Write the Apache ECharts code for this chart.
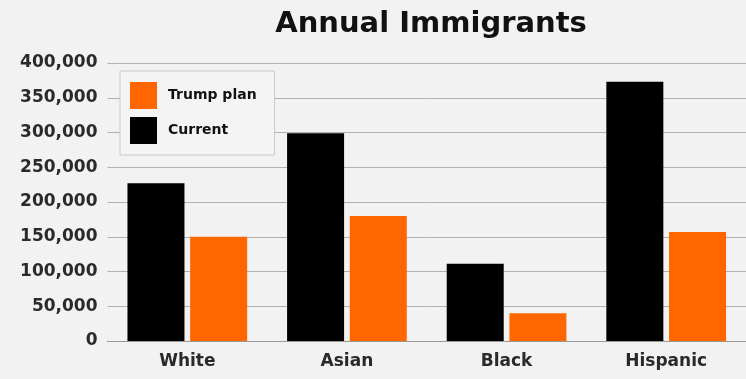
<!DOCTYPE html>
<html>
<head>
<meta charset="utf-8">
<script src="https://cdn.jsdelivr.net/npm/echarts@6/dist/echarts.min.js"></script>
<style>
  html, body { margin: 0; padding: 0; background: #f2f2f2; }
  #chart { width: 746px; height: 379px; }
</style>
</head>
<body>
<div id="chart"></div>
<script>
const categories = ['White', 'Asian', 'Black', 'Hispanic'];
const currentValues = [227000, 299000, 111000, 373000];
const trumpValues = [150000, 180000, 40000, 157000];

const chartDom = document.getElementById('chart');
const myChart = echarts.init(chartDom);

const font = 'DejaVu Sans';

const option = {
    backgroundColor: '#f2f2f2',
    animation: false,
    title: {
        text: 'Annual Immigrants',
        left: 426,
        textAlign: 'center',
        top: 5,
        textStyle: { fontFamily: font, fontSize: 29, fontWeight: 'bold', color: '#111' }
    },
    legend: {
        data: ['Trump plan', 'Current'],
        orient: 'vertical',
        left: 120,
        top: 71,
        padding: [11, 18, 11, 10],
        itemWidth: 27,
        itemHeight: 27,
        itemGap: 8,
        icon: 'rect',
        backgroundColor: '#f4f4f4',
        borderColor: '#c8c8c8',
        borderWidth: 1,
        textStyle: { fontFamily: font, fontSize: 14, fontWeight: 'bold', color: '#111', padding: [0, 0, 0, 6] }
    },
    grid: { left: 107.5, right: -6, top: 63, bottom: 38, containLabel: false },
    xAxis: {
        type: 'category',
        data: categories,
        axisLine: { lineStyle: { color: '#999' } },
        axisTick: { alignWithLabel: true, length: 5, lineStyle: { color: '#999' } },
        axisLabel: { fontFamily: font, fontSize: 17, fontWeight: 'bold', color: '#2a2a2a', margin: 12 }
    },
    yAxis: {
        type: 'value',
        min: 0,
        max: 400000,
        interval: 50000,
        axisLine: { show: false },
        axisTick: { show: false },
        splitLine: { lineStyle: { color: '#b0b0b0' } },
        axisLabel: {
            fontFamily: font, fontSize: 17, fontWeight: 'bold', color: '#2a2a2a', margin: 10,
            formatter: v => v.toLocaleString('en-US')
        }
    },
    series: [
        {
            name: 'Current',
            type: 'bar',
            data: currentValues,
            barWidth: 57,
            barGap: '10%',
            itemStyle: { color: '#000000' }
        },
        {
            name: 'Trump plan',
            type: 'bar',
            data: trumpValues,
            barWidth: 57,
            barGap: '10%',
            itemStyle: { color: '#ff6600' }
        }
    ]
};
myChart.setOption(option);
</script>
</body>
</html>
